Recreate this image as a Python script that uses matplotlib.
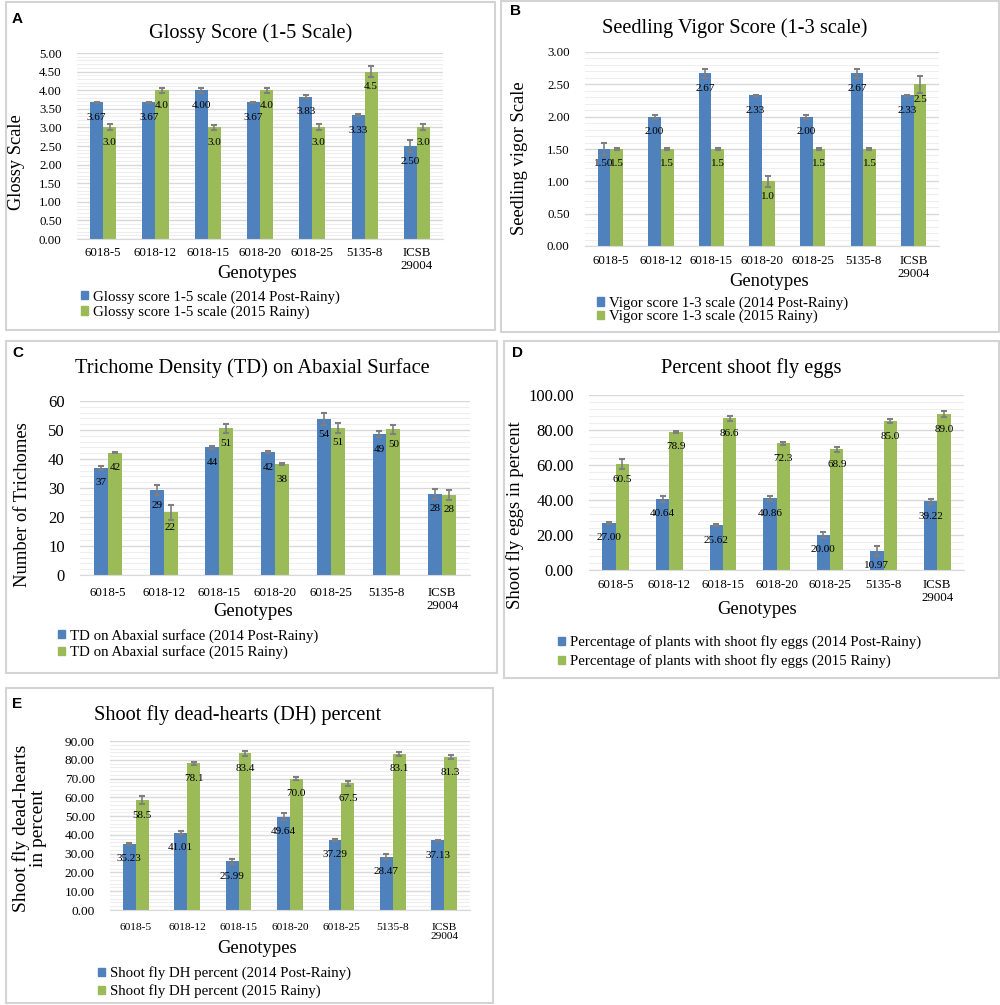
import matplotlib
matplotlib.use('Agg')
import matplotlib.pyplot as plt
from matplotlib.patches import Rectangle, Patch
from matplotlib.ticker import MultipleLocator, FormatStrFormatter
import numpy as np

plt.rcParams['font.family'] = ['Liberation Serif', 'DejaVu Serif']

genotypes = ['6018-5', '6018-12', '6018-15', '6018-20', '6018-25', '5135-8', 'ICSB\n29004']

# A - glossy score
glossy_2014 = [3.67, 3.67, 4.00, 3.67, 3.83, 3.33, 2.50]
glossy_2015 = [3.0, 4.0, 3.0, 4.0, 3.0, 4.5, 3.0]
glossy_err_2014 = [0.01, 0.01, 0.07, 0.01, 0.05, 0.03, 0.15]
glossy_err_2015 = [0.08, 0.07, 0.07, 0.07, 0.08, 0.15, 0.08]

# B - seedling vigor
vigor_2014 = [1.50, 2.00, 2.67, 2.33, 2.00, 2.67, 2.33]
vigor_2015 = [1.5, 1.5, 1.5, 1.0, 1.5, 1.5, 2.5]
vigor_err_2014 = [0.10, 0.03, 0.07, 0.01, 0.03, 0.07, 0.01]
vigor_err_2015 = [0.01, 0.01, 0.01, 0.08, 0.01, 0.01, 0.13]

# C - trichome density
td_2014 = [36.9, 29.3, 44.0, 42.4, 53.7, 48.6, 28.0]
td_2015 = [42.2, 21.6, 50.6, 38.2, 50.8, 50.2, 27.6]
td_err_2014 = [0.6, 1.7, 0.6, 0.3, 2.0, 1.1, 1.8]
td_err_2015 = [0.3, 2.7, 1.5, 0.3, 1.7, 1.6, 1.8]

# D - shoot fly eggs
eggs_2014 = [27.00, 40.64, 25.62, 40.86, 20.00, 10.97, 39.22]
eggs_2015 = [60.5, 78.9, 86.6, 72.3, 68.9, 85.0, 89.0]
eggs_err_2014 = [0.5, 1.7, 0.6, 1.7, 1.5, 2.7, 1.5]
eggs_err_2015 = [2.7, 0.5, 1.4, 0.8, 1.4, 1.2, 1.7]

# E - dead hearts
dh_2014 = [35.23, 41.01, 25.99, 49.64, 37.29, 28.47, 37.13]
dh_2015 = [58.5, 78.1, 83.4, 70.0, 67.5, 83.1, 81.3]
dh_err_2014 = [0.5, 0.8, 1.3, 1.8, 0.5, 1.4, 0.4]
dh_err_2015 = [2.3, 0.7, 1.4, 0.8, 1.2, 1.3, 1.0]

BLUE = '#4F81BD'
GREEN = '#9BBB59'
W, H = 1000, 1005

fig = plt.figure(figsize=(W / 100, H / 100), dpi=100)


def fx(x):
    return x / W


def fy(y):
    return 1 - y / H


def frame(x0, y0, x1, y1, letter, lx, ly):
    # light grey box round each panel, with its bold letter
    fig.patches.append(Rectangle((fx(x0), fy(y1)), (x1 - x0) / W, (y1 - y0) / H,
                                 transform=fig.transFigure, fill=False,
                                 edgecolor='#D4D4D4', lw=1.5))
    fig.text(fx(lx), fy(ly), letter, family='Liberation Sans', weight='bold',
             fontsize=11, ha='left', va='center')


def panel(rect, v14, v15, e14, e15, ymax, major, minor, yfmt, f14, f15,
          title, tpos, ylabel, ypos, xpos, leg_labels, lpos, lspace,
          ytick_fs=9.3, xtick_fs=9.3, ylab_fs=13.4, xpad=4.5):
    x0, y0, x1, y1 = rect
    ax = fig.add_axes([fx(x0), fy(y1), (x1 - x0) / W, (y1 - y0) / H])
    x = np.arange(len(genotypes))
    ax.bar(x - 0.125, v14, 0.25, color=BLUE, zorder=2)
    ax.bar(x + 0.125, v15, 0.25, color=GREEN, zorder=2)
    ax.errorbar(x - 0.125, v14, yerr=e14, fmt='none', ecolor='#7F7F7F',
                elinewidth=1.2, capsize=2.5, capthick=1.5, zorder=3)
    ax.errorbar(x + 0.125, v15, yerr=e15, fmt='none', ecolor='#7F7F7F',
                elinewidth=1.2, capsize=2.5, capthick=1.5, zorder=3)
    for xs, vals, fmt in ((x - 0.125, v14, f14), (x + 0.125, v15, f15)):
        for xi, v in zip(xs, vals):
            ax.annotate(fmt % v, (xi, v), xytext=(0, -10.8), textcoords='offset points',
                        ha='center', va='center', fontsize=8, zorder=4)
    ax.set_xlim(-0.5, len(genotypes) - 0.5)
    ax.set_ylim(0, ymax)
    ax.yaxis.set_major_locator(MultipleLocator(major))
    ax.yaxis.set_minor_locator(MultipleLocator(minor))
    ax.yaxis.set_major_formatter(FormatStrFormatter(yfmt))
    ax.grid(which='major', axis='y', color='#D9D9D9', lw=1.0)
    ax.grid(which='minor', axis='y', color='#EEEEEE', lw=0.8)
    ax.set_axisbelow(True)
    for s in ('top', 'right', 'left'):
        ax.spines[s].set_visible(False)
    ax.spines['bottom'].set_color('#D9D9D9')
    ax.set_xticks(x)
    ax.set_xticklabels(genotypes, fontsize=xtick_fs, linespacing=1.1)
    ax.tick_params(axis='x', length=0, pad=xpad)
    ax.tick_params(axis='y', which='both', length=0, pad=11, labelsize=ytick_fs)
    fig.text(fx(tpos[0]), fy(tpos[1]), title, fontsize=14.7, ha='center', va='center')
    fig.text(fx(ypos[0]), fy(ypos[1]), ylabel, fontsize=ylab_fs, rotation=90,
             ha='center', va='center', linespacing=1.0)
    fig.text(fx(xpos[0]), fy(xpos[1]), 'Genotypes', fontsize=13.4, ha='center', va='center')
    handles = [Patch(color=BLUE), Patch(color=GREEN)]
    ax.legend(handles, leg_labels, loc='center left', bbox_to_anchor=(fx(lpos[0]), fy(lpos[1])),
              bbox_transform=fig.transFigure, frameon=False, fontsize=10.7,
              handlelength=0.5, handleheight=0.5, handletextpad=0.3,
              borderpad=0, borderaxespad=0, labelspacing=lspace)
    return ax


# panel frames
frame(6, 2, 495, 330, 'A', 12, 19)
frame(501, 1, 999, 332, 'B', 510, 11)
frame(6, 341, 497, 673, 'C', 12, 353)
frame(504, 341, 999, 678, 'D', 512, 353)
frame(6, 688, 493, 1003, 'E', 12, 704)

panel((77, 53, 443, 239), glossy_2014, glossy_2015, glossy_err_2014, glossy_err_2015,
      5, 0.5, 0.1, '%.2f', '%.2f', '%.1f',
      'Glossy Score (1-5 Scale)', (251, 33), 'Glossy Scale', (17, 162), (257, 273),
      ['Glossy score 1-5 scale (2014 Post-Rainy)', 'Glossy score 1-5 scale (2015 Rainy)'],
      (81, 304.5), 0.13, ylab_fs=13.2, xpad=5.5)

panel((585, 52, 939, 246), vigor_2014, vigor_2015, vigor_err_2014, vigor_err_2015,
      3, 0.5, 0.1, '%.2f', '%.2f', '%.1f',
      'Seedling Vigor Score (1-3 scale)', (735, 28), 'Seedling vigor Scale', (520, 158), (769, 282),
      ['Vigor score 1-3 scale (2014 Post-Rainy)', 'Vigor score 1-3 scale (2015 Rainy)'],
      (597, 310), 0.0, ylab_fs=13.3, xpad=6.5)

panel((80, 401, 470, 575), td_2014, td_2015, td_err_2014, td_err_2015,
      60, 10, 2, '%d', '%.0f', '%.0f',
      'Trichome Density (TD) on Abaxial Surface', (252, 368), 'Number of Trichomes', (23, 505), (253, 611),
      ['TD on Abaxial surface (2014 Post-Rainy)', 'TD on Abaxial surface (2015 Rainy)'],
      (58, 644), 0.2, ytick_fs=12, xpad=8.5)

panel((589, 395, 964, 570), eggs_2014, eggs_2015, eggs_err_2014, eggs_err_2015,
      100, 20, 4, '%.2f', '%.2f', '%.1f',
      'Percent shoot fly eggs', (751, 368), 'Shoot fly eggs in percent', (515, 515), (757, 610),
      ['Percentage of plants with shoot fly eggs (2014 Post-Rainy)',
       'Percentage of plants with shoot fly eggs (2015 Rainy)'],
      (558, 652), 0.34, ytick_fs=12, ylab_fs=13.5, xpad=6.5)

panel((110, 741, 470, 910), dh_2014, dh_2015, dh_err_2014, dh_err_2015,
      90, 10, 2, '%.2f', '%.2f', '%.1f',
      'Shoot fly dead-hearts (DH) percent', (238, 715), 'Shoot fly dead-hearts\nin percent', (30, 828),
      (257, 948),
      ['Shoot fly DH percent (2014 Post-Rainy)', 'Shoot fly DH percent (2015 Rainy)'],
      (98, 982.5), 0.27, ytick_fs=9.6, xtick_fs=8.2, ylab_fs=14, xpad=9)

fig.savefig('out.png', dpi=100)
